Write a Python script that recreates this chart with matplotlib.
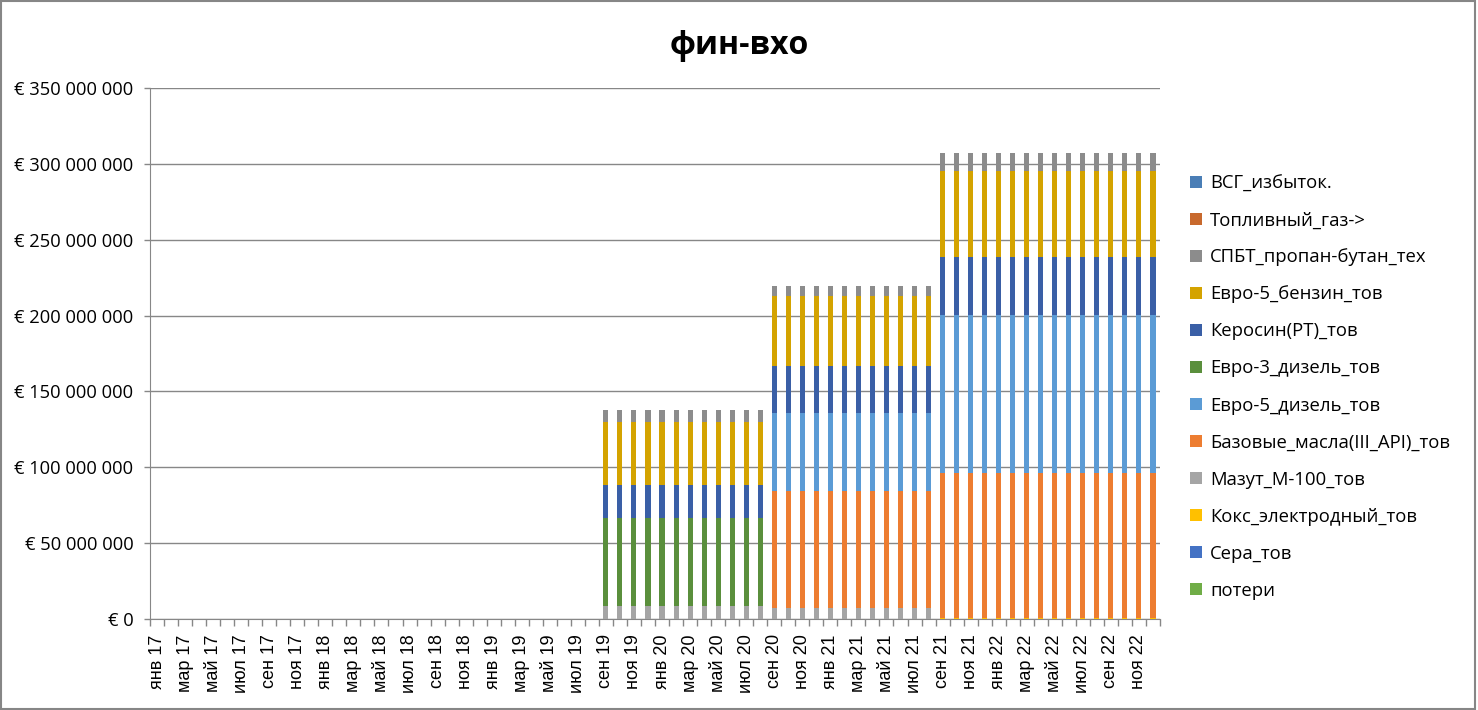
import matplotlib

matplotlib.use("Agg")
import matplotlib.pyplot as plt
import numpy as np
from matplotlib.patches import Patch, Rectangle
from matplotlib.ticker import FuncFormatter


MONTHS = ["янв", "фев", "мар", "апр", "май", "июн", "июл", "авг", "сен", "окт", "ноя", "дек"]
YEARS = ["17", "18", "19", "20", "21", "22"]
CATEGORIES = [f"{m} {y}" for y in YEARS for m in MONTHS]

# months in each step: before start, Sep19-Aug20, Sep20-Aug21, Sep21-Dec22
PERIOD_MONTHS = [32, 12, 12, 16]

# series in stacking order (bottom first), values per period in millions EUR
SERIES_NAMES = [
    "потери",
    "Сера_тов",
    "Кокс_электродный_тов",
    "Мазут_М-100_тов",
    "Базовые_масла(III_API)_тов",
    "Евро-5_дизель_тов",
    "Евро-3_дизель_тов",
    "Керосин(РТ)_тов",
    "Евро-5_бензин_тов",
    "СПБТ_пропан-бутан_тех",
    "Топливный_газ->",
    "ВСГ_избыток.",
]
POTERI = [0, 0, 0, 0]
SERA = [0, 0, 0, 0]
KOKS = [0, 0, 0, 0.9]
MAZUT = [0, 8.6, 7.5, 0]
MASLA = [0, 0, 76.8, 95.5]
EURO5_DIESEL = [0, 0, 51.3, 104.0]
EURO3_DIESEL = [0, 58.0, 0, 0]
KEROSIN = [0, 21.6, 31.0, 38.2]
EURO5_BENZIN = [0, 41.4, 46.0, 56.5]
SPBT = [0, 7.9, 7.2, 11.9]
TOPL_GAZ = [0, 0, 0, 0]
VSG = [0, 0, 0, 0]

PERIOD_VALUES = [POTERI, SERA, KOKS, MAZUT, MASLA, EURO5_DIESEL, EURO3_DIESEL,
                 KEROSIN, EURO5_BENZIN, SPBT, TOPL_GAZ, VSG]

COLORS = ["#70AD47", "#4472C4", "#FFC000", "#A5A5A5", "#ED7D31", "#5B9BD5",
          "#5A8F3C", "#3A5FA6", "#D4A300", "#8C8C8C", "#C8692D", "#4A7EB6"]


def euro_fmt(v, _pos):
    if v == 0:
        return "€ 0"
    s = f"{int(v):,}".replace(",", " ")
    return f"€ {s}"


def main():
    fig = plt.figure(figsize=(14.78, 7.10), dpi=100)
    ax = fig.add_axes([150 / 1478, 1 - 619 / 710, 1010 / 1478, 531 / 710])

    x = np.arange(len(CATEGORIES))
    bottom = np.zeros(len(CATEGORIES))
    for name, vals, color in zip(SERIES_NAMES, PERIOD_VALUES, COLORS):
        series = np.repeat(np.array(vals, dtype=float) * 1e6, PERIOD_MONTHS)
        ax.bar(x, series, width=0.36, bottom=bottom, color=color, label=name, zorder=3)
        bottom += series

    ax.set_xlim(-0.5, len(CATEGORIES) - 0.5)
    ax.set_ylim(0, 350e6)
    ax.set_yticks(np.arange(0, 350e6 + 1, 50e6))
    ax.yaxis.set_major_formatter(FuncFormatter(euro_fmt))
    ax.grid(axis="y", color="#878787", linewidth=1.0, zorder=0)

    ax.set_xticks(x[::2])
    ax.set_xticklabels(CATEGORIES[::2], rotation=90, fontfamily="Liberation Sans", fontsize=13)
    ax.set_xticks(np.arange(-0.5, len(CATEGORIES), 1), minor=True)
    ax.tick_params(axis="x", which="major", length=0, pad=11)
    ax.tick_params(axis="x", which="minor", length=5, color="#878787", width=1)
    ax.tick_params(axis="y", length=4, color="#878787", width=1, pad=8)
    for lab in ax.get_yticklabels():
        lab.set_fontfamily("Open Sans")
        lab.set_fontsize(13.2)

    for side in ("top", "right"):
        ax.spines[side].set_visible(False)
    ax.spines["left"].set_color("#878787")
    ax.spines["bottom"].set_color("#878787")

    fig.text(0.5, 1 - 45 / 710, "фин-вхо", ha="center", va="center",
             fontsize=23, fontweight="bold", fontfamily="Open Sans")

    handles = [Patch(facecolor=c, label=n) for n, c in zip(SERIES_NAMES, COLORS)][::-1]
    fig.legend(handles=handles, loc="center left", bbox_to_anchor=(1173 / 1478, 1 - 387 / 710),
               frameon=False, prop={"family": "Open Sans", "size": 13.3},
               handlelength=0.65, handleheight=0.65, handletextpad=0.45, labelspacing=1.03)

    fig.patches.append(Rectangle((0.001, 0.002), 0.997, 0.996, transform=fig.transFigure,
                                 fill=False, edgecolor="#868686", linewidth=1.5))

    fig.savefig("out.png", dpi=100, facecolor="white")
    plt.close(fig)


if __name__ == "__main__":
    main()
